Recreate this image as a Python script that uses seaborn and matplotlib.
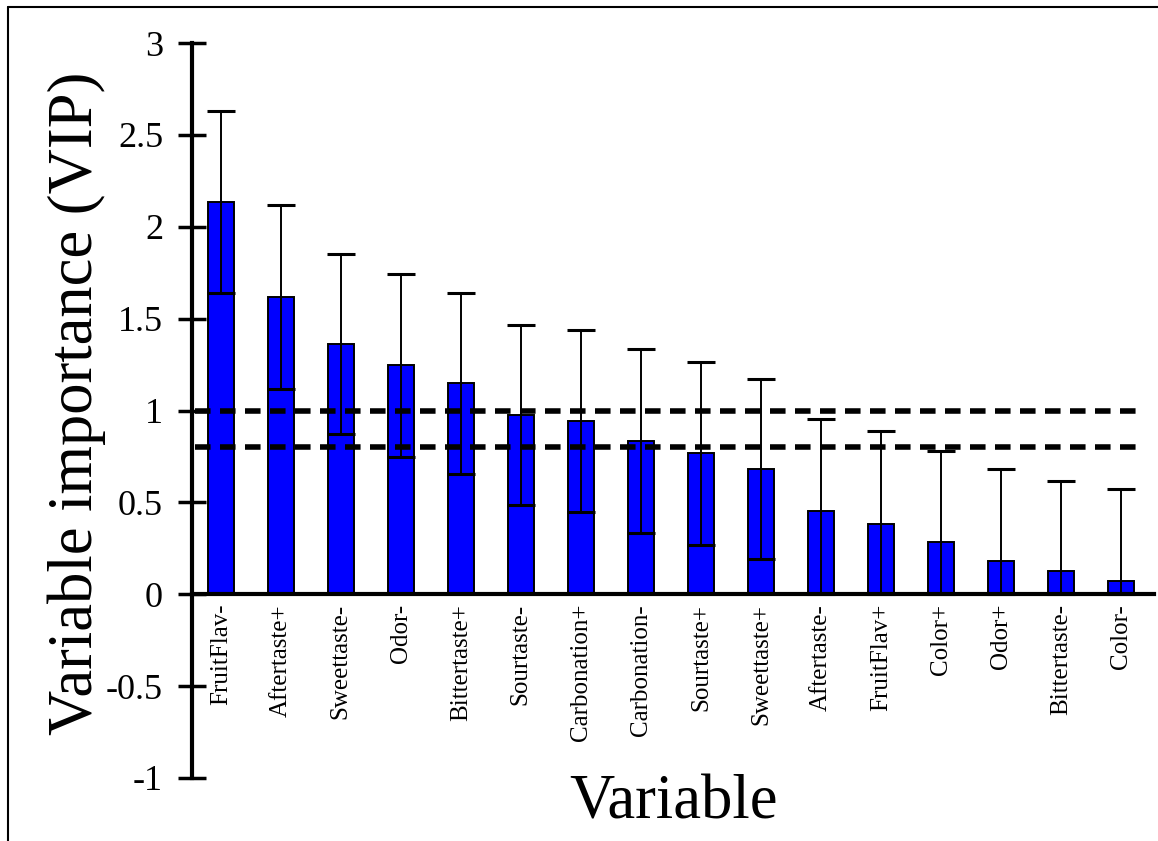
import matplotlib
matplotlib.use("Agg")
import matplotlib.pyplot as plt
from matplotlib.lines import Line2D
import numpy as np
import pandas as pd
import seaborn as sns

# Variable importance in projection (VIP) per sensory attribute
variables = ["FruitFlav-", "Aftertaste+", "Sweettaste-", "Odor-", "Bittertaste+",
             "Sourtaste-", "Carbonation+", "Carbonation-", "Sourtaste+", "Sweettaste+",
             "Aftertaste-", "FruitFlav+", "Color+", "Odor+", "Bittertaste-", "Color-"]
vip = [2.135, 1.616, 1.364, 1.245, 1.147, 0.974, 0.945, 0.836, 0.766, 0.680,
       0.452, 0.381, 0.283, 0.181, 0.129, 0.071]
vip_err = [0.495, 0.500, 0.490, 0.500, 0.490, 0.490, 0.495, 0.500, 0.500, 0.490,
           0.500, 0.505, 0.497, 0.500, 0.490, 0.500]
y_ticks = [3, 2.5, 2, 1.5, 1, 0.5, 0, -0.5, -1]
thresholds = [1.0, 0.8]

sns.set_style("white")
plt.rcParams["font.family"] = ["Liberation Serif", "DejaVu Serif"]
plt.rcParams["axes.unicode_minus"] = False
for key in ("text.color", "axes.labelcolor", "xtick.color", "ytick.color",
            "axes.edgecolor"):
    plt.rcParams[key] = "black"

W, H = 1158, 841
fig = plt.figure(figsize=(W / 100, H / 100), dpi=100)
ax = fig.add_axes([192 / W, 1 - 778 / H, (1154 - 192) / W, 735 / H])

df = pd.DataFrame({"Variable": variables, "VIP": vip})
sns.barplot(data=df, x="Variable", y="VIP", color="#0000ff", saturation=1,
            width=0.44, edgecolor="black", linewidth=1.4, errorbar=None, ax=ax)

# error bars, lower arm stops at zero
vals = np.array(vip)
errs = np.array(vip_err)
lower = np.minimum(errs, vals)
ax.errorbar(np.arange(len(vals)), vals, yerr=[lower, errs], fmt="none",
            ecolor="black", elinewidth=1.4, capsize=10, capthick=2.2, zorder=3)

# VIP threshold lines
for t in thresholds:
    ax.axhline(t, xmin=0.003, xmax=0.985, color="black", lw=4,
               linestyle=(0, (2.8, 1.7)), dash_capstyle="butt", zorder=4)

ax.set_ylim(-1, 3)
ax.set_xlim(-0.48, 15.55)

for side in ("top", "right"):
    ax.spines[side].set_visible(False)
ax.spines["left"].set_linewidth(3)
ax.spines["bottom"].set_linewidth(3)
ax.spines["bottom"].set_position(("data", 0))

ax.set_yticks(y_ticks)
ax.set_yticklabels([f"{v:g}" for v in y_ticks])
ax.tick_params(axis="y", direction="inout", length=20, width=2.5, pad=10.8,
               labelsize=26, left=True, colors="black")
ax.tick_params(axis="x", length=0, pad=7, labelsize=18, labelrotation=90,
               colors="black")

ax.set_xlabel("Variable", fontsize=45, color="black")
ax.set_ylabel("Variable importance (VIP)", fontsize=45, color="black")
ax.xaxis.set_label_coords(0.5, 0.005)
ax.yaxis.set_label_coords(-0.0898, 0.51)

# outer frame (top and left edges)
fig.add_artist(Line2D([8 / W, 8 / W], [0, 1 - 7 / H], color="black", lw=1.5,
                      transform=fig.transFigure))
fig.add_artist(Line2D([8 / W, 1], [1 - 7 / H, 1 - 7 / H], color="black", lw=1.5,
                      transform=fig.transFigure))

fig.savefig("out.png", dpi=100)
